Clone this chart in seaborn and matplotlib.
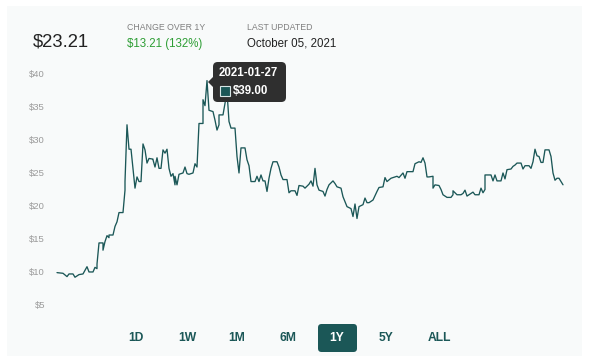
import numpy as np
import pandas as pd
import matplotlib
matplotlib.use("Agg")
import matplotlib.pyplot as plt
from matplotlib.patches import FancyBboxPatch, Rectangle, Polygon
import seaborn as sns

# trading-day index since 2020-10-05 and closing price
DAY = [0, 3, 5, 6, 8, 9, 11, 13, 15, 16, 18, 19, 20, 20, 21, 23, 23, 24, 25, 26,
       26, 28, 29, 30, 31, 33, 34, 34, 35, 36, 37, 39, 40, 41, 42, 43, 44, 45, 46, 48,
       48, 49, 50, 51, 52, 53, 54, 55, 56, 57, 58, 59, 59, 60, 61, 63, 64, 65, 66, 68,
       69, 70, 71, 73, 73, 74, 75, 76, 78, 79, 80, 81, 81, 83, 84, 85, 86, 87, 89, 90,
       91, 92, 94, 95, 96, 97, 99, 100, 101, 102, 103, 104, 105, 106, 107, 108, 110, 111, 112, 113,
       115, 116, 117, 119, 120, 121, 123, 124, 126, 127, 128, 129, 130, 131, 133, 134, 135, 136, 138, 139,
       140, 142, 143, 145, 147, 148, 149, 150, 151, 153, 154, 155, 156, 158, 160, 161, 163, 164, 165, 167,
       168, 170, 171, 173, 174, 175, 178, 179, 181, 182, 183, 184, 185, 186, 188, 188, 189, 191, 192, 193,
       195, 197, 198, 198, 200, 202, 203, 204, 205, 207, 208, 209, 211, 212, 213, 214, 214, 217, 218, 219,
       220, 222, 223, 224, 225, 227, 228, 229, 230, 232, 233, 234, 236, 237, 238, 239, 240, 241, 242, 243,
       244, 246, 247, 248, 249, 250, 251, 253]
PRICE = [9.9, 9.8, 9.3, 9.7, 9.7, 9.2, 9.6, 9.7, 10.8, 10.0, 10.0, 10.7, 10.5, 11.2, 14.4, 14.4, 13.3, 14.6, 15.5, 15.2,
         15.6, 15.6, 16.9, 17.6, 19.0, 19.0, 22.4, 23.7, 32.3, 28.6, 28.6, 22.7, 24.4, 23.7, 23.7, 29.4, 28.5, 26.5, 27.2, 27.1,
         27.0, 25.9, 27.3, 25.7, 25.7, 28.5, 28.0, 28.6, 25.7, 24.5, 24.9, 23.2, 24.5, 23.2, 24.8, 25.0, 25.9, 24.9, 24.8, 25.0,
         26.4, 25.9, 32.5, 32.5, 36.1, 35.2, 39.0, 34.5, 34.3, 33.0, 31.5, 32.3, 33.8, 33.8, 35.6, 37.3, 32.8, 31.8, 31.8, 27.5,
         25.0, 28.8, 28.8, 27.0, 26.1, 23.7, 23.7, 24.5, 23.7, 24.7, 23.8, 23.8, 22.2, 24.2, 25.7, 26.7, 26.7, 25.9, 24.7, 24.0,
         24.0, 22.0, 22.3, 22.3, 21.6, 23.1, 23.0, 22.7, 23.3, 23.8, 23.0, 25.7, 23.2, 22.4, 22.2, 21.5, 22.5, 23.2, 23.8, 23.4,
         22.9, 22.7, 21.4, 19.9, 19.6, 18.4, 20.3, 18.1, 19.9, 20.2, 21.2, 20.5, 20.5, 20.9, 22.2, 22.8, 22.9, 24.3, 23.7, 24.2,
         24.3, 24.5, 24.3, 25.0, 24.2, 25.2, 25.2, 26.4, 26.7, 26.6, 27.3, 26.5, 24.4, 24.4, 24.5, 22.7, 23.2, 23.1, 22.5, 21.7,
         21.3, 21.3, 21.7, 22.3, 21.7, 21.7, 21.9, 22.4, 21.5, 21.9, 22.1, 21.7, 21.7, 22.7, 22.0, 22.5, 24.7, 24.7, 23.8, 24.7,
         23.8, 23.8, 25.0, 24.1, 25.5, 25.6, 26.0, 26.2, 26.5, 26.5, 25.6, 26.1, 26.1, 25.7, 26.7, 28.6, 27.6, 27.5, 26.6, 26.6,
         28.5, 28.5, 27.5, 25.0, 23.9, 24.2, 24.2, 23.21]

Y_TICKS = [5, 10, 15, 20, 25, 30, 35, 40]
RANGES = ["1D", "1W", "1M", "6M", "1Y", "5Y", "ALL"]
ACTIVE = "1Y"

LAST_PRICE = "$23.21"
CHANGE = "$13.21 (132%)"
UPDATED = "October 05, 2021"
TIP_DATE = "2021-01-27"
TIP_PRICE = "$39.00"

PANEL = "#f8fafa"
TEAL = "#1b5757"
W, H = 591, 361

sns.set_theme(style="white")
plt.rcParams["font.family"] = ["Liberation Sans", "DejaVu Sans"]


def P(x, y):
    # pixel (from top-left) -> figure fraction
    return x / W, 1 - y / H


fig = plt.figure(figsize=(W / 100, H / 100), dpi=100)
fig.patch.set_facecolor("white")
fig.add_artist(Rectangle(P(7, 356), 575 / W, 350 / H, transform=fig.transFigure,
                         facecolor=PANEL, edgecolor="none", zorder=0))

ax = fig.add_axes([52 / W, 46 / H, 518 / W, 250 / H])
ax.set_facecolor(PANEL)
df = pd.DataFrame({"day": DAY, "price": PRICE})
sns.lineplot(data=df, x="day", y="price", estimator=None, sort=False,
             color=TEAL, linewidth=0.95, ax=ax)
ax.set_xlim(-2.5, 256.5)
ax.set_ylim(3.48, 41.36)
ax.set_yticks(Y_TICKS)
ax.set_yticklabels([f"${v}" for v in Y_TICKS])
ax.set_xticks([])
ax.set_xlabel("")
ax.set_ylabel("")
ax.tick_params(axis="y", length=0, pad=5, labelsize=6.8, labelcolor="#9a9a9a")
for s in ax.spines.values():
    s.set_visible(False)
ax.grid(False)

# header
fig.text(*P(33, 42), LAST_PRICE, fontsize=13.3, color="#222222", va="center", ha="left")
fig.text(*P(127, 27), "CHANGE OVER 1Y", fontsize=6.3, color="#808080", va="center")
fig.text(*P(127, 44), CHANGE, fontsize=8.3, color="#2e9e35", va="center")
fig.text(*P(247, 27), "LAST UPDATED", fontsize=6.3, color="#808080", va="center")
fig.text(*P(247, 44), UPDATED, fontsize=8.3, color="#222222", va="center")

# tooltip
fig.add_artist(FancyBboxPatch(P(213, 102), 73 / W, 40 / H, transform=fig.transFigure,
                              boxstyle="round,pad=0,rounding_size=0.008",
                              mutation_aspect=W / H, facecolor="#2f2f2f",
                              edgecolor="none", zorder=5))
fig.add_artist(Polygon([P(213, 77), P(208, 82), P(213, 87)], closed=True,
                       transform=fig.transFigure, facecolor="#2f2f2f",
                       edgecolor="none", zorder=5))
fig.text(*P(219, 73), TIP_DATE, fontsize=8.3, fontweight="bold", color="white",
         va="center", zorder=6)
fig.add_artist(Rectangle(P(220, 96), 10 / W, 10 / H, transform=fig.transFigure,
                         facecolor=TEAL, edgecolor="#d8e6e6", linewidth=0.8, zorder=6))
fig.text(*P(233, 91), TIP_PRICE, fontsize=8.3, fontweight="bold", color="white",
         va="center", zorder=6)

# range buttons
xs = [136, 187, 237, 288, 337, 386, 439]
for lab, x in zip(RANGES, xs):
    col = TEAL
    if lab == ACTIVE:
        fig.add_artist(FancyBboxPatch(P(318, 352), 39 / W, 28 / H, transform=fig.transFigure,
                                      boxstyle="round,pad=0,rounding_size=0.006",
                                      mutation_aspect=W / H, facecolor=TEAL,
                                      edgecolor="none", zorder=5))
        col = "white"
    fig.text(*P(x, 338), lab, fontsize=8.7, fontweight="bold", color=col,
             ha="center", va="center", zorder=6)

fig.savefig("out.png", dpi=100, facecolor="white")
